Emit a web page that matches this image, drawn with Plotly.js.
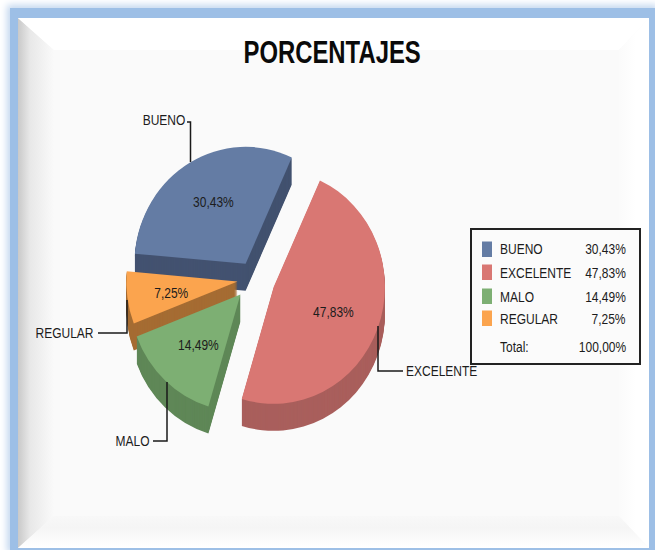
<!DOCTYPE html>
<html><head><meta charset="utf-8">
<script src="https://cdn.plot.ly/plotly-3.0.1.min.js"></script>
<style>
html,body{margin:0;padding:0;width:655px;height:550px;background:#fff;overflow:hidden}
#frame{position:absolute;left:10px;top:8px;width:645px;height:542px;background:#9dbfe6;box-shadow:0 0 7px 3px #c3d7ef}
#panel{position:absolute;left:18px;top:18px;width:631px;height:530px;background:#fafafa;overflow:hidden}
.b{position:absolute;left:0;top:0;width:100%;height:100%}
#bl{background:linear-gradient(90deg,#c9c9c9 0,#e8e8e8 12px,#fafafa 36px);clip-path:polygon(0 0,36px 32px,36px 498px,0 530px)}
#bt{background:#fff;clip-path:polygon(0 0,631px 0,601px 32px,36px 32px)}
#br{background:linear-gradient(90deg,#fafafa 598px,#fff 618px);clip-path:polygon(631px 0,631px 530px,601px 498px,601px 32px)}
#bb{background:linear-gradient(180deg,#fafafa 490px,#f5f5f5 510px,#fff 530px);clip-path:polygon(0 530px,631px 530px,601px 498px,36px 498px)}
#chart{position:absolute;left:0;top:0;width:655px;height:550px}
</style></head><body>
<div id="frame"></div>
<div id="panel"><div class="b" id="bl"></div><div class="b" id="bt"></div><div class="b" id="br"></div><div class="b" id="bb"></div></div>
<div id="chart"></div>
<script>
const titleText = 'PORCENTAJES';
const categories = ['BUENO', 'EXCELENTE', 'MALO', 'REGULAR'];
const values = [30.43, 47.83, 14.49, 7.25];
const totalValue = 100.00;
const topColors = ['#647ca4', '#d97773', '#7daf73', '#fba44e'];
const sideColors = ['#435270', '#a95f5c', '#5f8757', '#a56c33'];
const pulls = [0.15, 0.19, 0.18, 0.15];

const W = 655, H = 550, FONT = '"Liberation Sans",Arial,sans-serif', INK = '#1c1c1c';
const NARROW = 0.8, TITLE_NARROW = 0.77, PIE_SQUEEZE = 0.95;
const px = x => x / W, py = y => 1 - y / H;
const fmt = v => v.toFixed(2).replace('.', ',') + '%';

const cx = 254, cy = 279, R = 117, depth = 27, step = 1;
const maxPull = Math.max(...pulls), dr = R * (1 + maxPull);
function pieTrace(dy, colors) {
  return {
    type: 'pie', labels: categories, values: values, sort: false, direction: 'clockwise',
    rotation: -85, pull: pulls, textinfo: 'none', hoverinfo: 'label+percent', showlegend: false,
    marker: {colors: colors, line: {width: 0}},
    domain: {x: [px(cx - dr), px(cx + dr)], y: [py(cy + dy + dr), py(cy + dy - dr)]}
  };
}
const traces = [];
for (let d = depth; d > 0; d -= step) traces.push(pieTrace(d, sideColors));
traces.push(pieTrace(0, topColors));

const txt = (x, y, text, anchor, size, opts) => Object.assign({
  xref: 'paper', yref: 'paper', x: px(x), y: py(y), text: text, showarrow: false,
  xanchor: anchor, yanchor: 'middle', font: {family: FONT, size: size, color: INK},
  borderpad: 0, borderwidth: 0
}, opts || {});

const annotations = [txt(332, 53, '<b>' + titleText + '</b>', 'center', 31, {font: {family: FONT, size: 31, color: '#0a0a0a'}})];
// percentages on the slices
const pctPos = [[213, 202], [333, 311], [198, 344], [171, 292]];
values.forEach((v, i) => annotations.push(txt(pctPos[i][0], pctPos[i][1], fmt(v), 'center', 15)));
// outer labels
const lblPos = [[185, 120, 'right'], [406, 370, 'left'], [150, 440, 'right'], [94, 332, 'right']];
categories.forEach((c, i) => annotations.push(txt(lblPos[i][0], lblPos[i][1], c, lblPos[i][2], 15)));

// leader lines
const leaders = [
  [[187, 122], [190.5, 122], [190.5, 162]],
  [[403, 371], [378, 371], [378, 326]],
  [[153, 441], [167, 441], [167, 382]],
  [[98, 333], [127, 333], [127, 300]]
];
const shapes = leaders.map(l => ({
  type: 'path', xref: 'paper', yref: 'paper',
  path: 'M' + l.map(p => px(p[0]) + ',' + py(p[1])).join('L'),
  line: {color: '#1a1a1a', width: 1.5}
}));

// legend box
const rowY = [249, 272, 296, 318], totalY = 346;
shapes.push({type: 'rect', xref: 'paper', yref: 'paper', x0: px(471), x1: px(640), y0: py(229), y1: py(364),
  fillcolor: '#fbfbfb', line: {color: '#222', width: 2}});
categories.forEach((c, i) => {
  shapes.push({type: 'rect', xref: 'paper', yref: 'paper', x0: px(482), x1: px(492), y0: py(rowY[i] - 7.5), y1: py(rowY[i] + 8),
    fillcolor: topColors[i], line: {width: 0}});
  annotations.push(txt(500, rowY[i], c, 'left', 15));
  annotations.push(txt(626, rowY[i], fmt(values[i]), 'right', 15));
});
annotations.push(txt(500, totalY, 'Total:', 'left', 15));
annotations.push(txt(626, totalY, fmt(totalValue), 'right', 15));

Plotly.newPlot('chart', traces, {
  width: W, height: H, margin: {l: 0, r: 0, t: 0, b: 0},
  paper_bgcolor: 'rgba(0,0,0,0)', plot_bgcolor: 'rgba(0,0,0,0)',
  showlegend: false, annotations: annotations, shapes: shapes
}, {displayModeBar: false, staticPlot: true}).then(gd => {
  // the reference uses a narrow face and a slightly squeezed pie
  const pie = gd.querySelector('.pielayer');
  if (pie) pie.setAttribute('transform', `translate(${cx},0) scale(${PIE_SQUEEZE},1) translate(${-cx},0)`);
  gd.querySelectorAll('.annotation').forEach(g => {
    const idx = +g.getAttribute('data-index');
    const a = annotations[idx];
    const t = g.querySelector('text');
    if (!a || !t) return;
    const b = t.getBBox();
    const x0 = a.xanchor === 'left' ? b.x : a.xanchor === 'right' ? b.x + b.width : b.x + b.width / 2;
    const k = idx === 0 ? TITLE_NARROW : NARROW;
    t.setAttribute('transform', `translate(${x0},0) scale(${k},1) translate(${-x0},0)`);
  });
});
</script></body></html>
